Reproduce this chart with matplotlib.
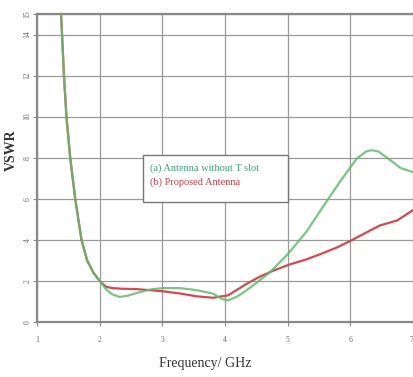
import matplotlib
matplotlib.use("Agg")
import matplotlib.pyplot as plt
from matplotlib.patches import Rectangle

# Data
freq_a = [1.38, 1.40, 1.43, 1.47, 1.53, 1.61, 1.71, 1.80, 1.90, 2.00, 2.10, 2.20, 2.32, 2.45,
          2.60, 2.80, 3.00, 3.28, 3.55, 3.81, 3.95, 4.05, 4.20, 4.34, 4.50, 4.72, 5.00, 5.30,
          5.56, 5.85, 6.10, 6.25, 6.34, 6.45, 6.63, 6.80, 7.00]
vswr_a = [15.2, 14.0, 12.0, 10.0, 8.0, 6.0, 4.0, 3.0, 2.4, 2.0, 1.6, 1.35, 1.22, 1.28,
          1.42, 1.58, 1.65, 1.65, 1.55, 1.38, 1.12, 1.05, 1.25, 1.54, 1.90, 2.43, 3.30, 4.40,
          5.60, 6.90, 7.95, 8.30, 8.37, 8.30, 7.90, 7.50, 7.30]

freq_b = [1.38, 1.40, 1.43, 1.47, 1.53, 1.61, 1.71, 1.80, 1.90, 2.00, 2.10, 2.20, 2.35, 2.60,
          2.80, 3.00, 3.28, 3.55, 3.81, 4.05, 4.34, 4.55, 4.77, 5.03, 5.30, 5.56, 5.80, 6.00,
          6.25, 6.47, 6.75, 7.00]
vswr_b = [15.2, 14.0, 12.0, 10.0, 8.0, 6.0, 4.0, 3.0, 2.4, 2.0, 1.72, 1.65, 1.62, 1.60,
          1.55, 1.50, 1.39, 1.25, 1.18, 1.30, 1.85, 2.20, 2.50, 2.80, 3.05, 3.35, 3.65, 3.95,
          4.35, 4.70, 4.95, 5.45]

x_ticks = [1, 2, 3, 4, 5, 6, 7]
y_ticks = [0, 2, 4, 6, 8, 10, 12, 14, 15]
labels = ["(a) Antenna without T slot", "(b) Proposed Antenna"]

green = "#5cbf6a"
red = "#d9464e"
serif = ["Liberation Serif", "DejaVu Serif"]

W, H = 413, 377
L, R, T, B = 37, 413, 14, 322
fig = plt.figure(figsize=(W/100, H/100), dpi=100)
ax = fig.add_axes([L/W, 1-B/H, (R-L)/W, (B-T)/H])

def ax_x(px):
    return (px - L) / (R - L)

def ax_y(py):
    return (B - py) / (B - T)

ax.plot(freq_b, vswr_b, color=red, lw=1.6, zorder=3)
ax.plot(freq_a, vswr_a, color=green, lw=1.6, alpha=0.85, zorder=4)

ax.set_xlim(1, 7)
ax.set_ylim(0, 15)
ax.set_xticks(x_ticks)
ax.set_yticks(y_ticks)
ax.grid(True, color="#9a9a9a", lw=0.9)
ax.set_axisbelow(True)

ax.spines["right"].set_visible(False)
for s in ["left", "bottom", "top"]:
    ax.spines[s].set_color("#888888")
    ax.spines[s].set_linewidth(1.6)

ax.tick_params(axis="both", colors="#888888", length=3, width=0.8,
               labelcolor="#666666", labelsize=5.5)
ax.tick_params(axis="y", pad=1)
ax.tick_params(axis="x", pad=7)
for lab in ax.get_yticklabels():
    lab.set_rotation(90)
    lab.set_va("center")
    lab.set_family(serif)
xlabs = ax.get_xticklabels()
for lab in xlabs:
    lab.set_family(serif)
xlabs[-1].set_ha("right")

ax.set_ylabel("VSWR", family=serif, fontsize=10, color="#333333", fontweight="bold")
ax.yaxis.set_label_coords(ax_x(11), ax_y(150))
ax.set_xlabel("Frequency/ GHz", family=serif, fontsize=10, color="#333333")
ax.xaxis.set_label_coords(ax_x(205), ax_y(363))
ax.xaxis.label.set_va("center")
ax.yaxis.label.set_va("center")

# legend box
x0, x1, y0, y1 = ax_x(143), ax_x(288), ax_y(202), ax_y(155)
ax.add_patch(Rectangle((x0, y0), x1 - x0, y1 - y0, transform=ax.transAxes,
                       facecolor="white", edgecolor="#777777", lw=1.0, zorder=6))
ax.text(ax_x(150), ax_y(168), labels[0], transform=ax.transAxes, family=serif,
        fontsize=7.5, color="#3aa57a", va="center", ha="left", zorder=7)
ax.text(ax_x(150), ax_y(182), labels[1], transform=ax.transAxes, family=serif,
        fontsize=7.5, color="#d03a44", va="center", ha="left", zorder=7)

fig.savefig("out.png", dpi=100)
